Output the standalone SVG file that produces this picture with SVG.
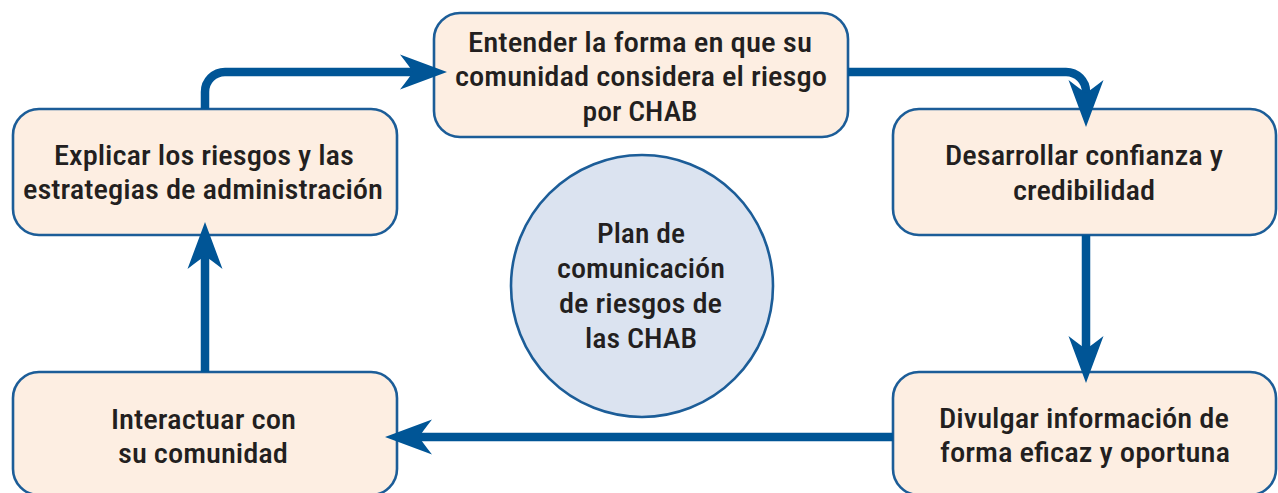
<svg xmlns="http://www.w3.org/2000/svg" width="1278" height="493" viewBox="0 0 1278 493">
<style>
  .box { fill: #fdeee2; stroke: #1c5d98; stroke-width: 2.6; }
  .hub { fill: #dbe3f0; stroke: #1c5d98; stroke-width: 2.6; }
  .lbl { font-family: "Liberation Sans Narrow", "Roboto Condensed", "DejaVu Sans Condensed", Roboto, "Liberation Sans", sans-serif; font-size: 28px; font-weight: 500; fill: #231f20; text-anchor: middle; }
  .conn { fill: none; stroke: #005596; stroke-width: 8.5; marker-end: url(#arr); }
</style>
<defs>
  <marker id="arr" markerUnits="userSpaceOnUse" viewBox="-50 -20 52 40" refX="-30" refY="0" markerWidth="52" markerHeight="40" orient="auto">
    <path d="M0,0 L-47,-17.5 Q-38,-6 -34,0 Q-38,6 -47,17.5 Z" fill="#005596"/>
  </marker>
</defs>
<rect width="1278" height="493" fill="#ffffff"/>
<g id="node-entender">
  <rect class="box" x="434" y="13" width="414" height="124" rx="26"/>
  <text class="lbl" x="640" y="52" textLength="344" lengthAdjust="spacingAndGlyphs">Entender la forma en que su</text>
  <text class="lbl" x="641" y="86" textLength="372" lengthAdjust="spacingAndGlyphs">comunidad considera el riesgo</text>
  <text class="lbl" x="640" y="121" textLength="115" lengthAdjust="spacingAndGlyphs">por CHAB</text>
</g>
<g id="node-explicar">
  <rect class="box" x="13" y="109" width="384" height="126" rx="26"/>
  <text class="lbl" x="204" y="165" textLength="300" lengthAdjust="spacingAndGlyphs">Explicar los riesgos y las</text>
  <text class="lbl" x="203" y="199" textLength="360" lengthAdjust="spacingAndGlyphs">estrategias de administración</text>
</g>
<g id="node-desarrollar">
  <rect class="box" x="893" y="109" width="383" height="126" rx="26"/>
  <text class="lbl" x="1084" y="165" textLength="278" lengthAdjust="spacingAndGlyphs">Desarrollar confianza y</text>
  <text class="lbl" x="1084" y="200" textLength="142" lengthAdjust="spacingAndGlyphs">credibilidad</text>
</g>
<g id="node-divulgar">
  <rect class="box" x="893" y="372" width="383" height="123" rx="26"/>
  <text class="lbl" x="1084" y="428" textLength="290" lengthAdjust="spacingAndGlyphs">Divulgar información de</text>
  <text class="lbl" x="1085" y="462" textLength="290" lengthAdjust="spacingAndGlyphs">forma eficaz y oportuna</text>
</g>
<g id="node-interactuar">
  <rect class="box" x="13" y="372" width="384" height="123" rx="26"/>
  <text class="lbl" x="203.5" y="429" textLength="185" lengthAdjust="spacingAndGlyphs">Interactuar con</text>
  <text class="lbl" x="203" y="463" textLength="170" lengthAdjust="spacingAndGlyphs">su comunidad</text>
</g>
<g id="node-plan">
  <circle class="hub" cx="642" cy="286" r="131"/>
  <text class="lbl" x="641" y="243" textLength="88" lengthAdjust="spacingAndGlyphs">Plan de</text>
  <text class="lbl" x="641" y="278" textLength="168" lengthAdjust="spacingAndGlyphs">comunicación</text>
  <text class="lbl" x="640.5" y="313" textLength="163" lengthAdjust="spacingAndGlyphs">de riesgos de</text>
  <text class="lbl" x="641" y="348" textLength="112" lengthAdjust="spacingAndGlyphs">las CHAB</text>
</g>
<g id="connectors">
  <path class="conn" d="M205,109 V92 A20,20 0 0 1 225,72 H417"/>
  <path class="conn" d="M848,72 H1066 A20,20 0 0 1 1086,92 V97"/>
  <path class="conn" d="M1086,235 V353"/>
  <path class="conn" d="M893,437 H415"/>
  <path class="conn" d="M205,372 V252"/>
</g>
</svg>
